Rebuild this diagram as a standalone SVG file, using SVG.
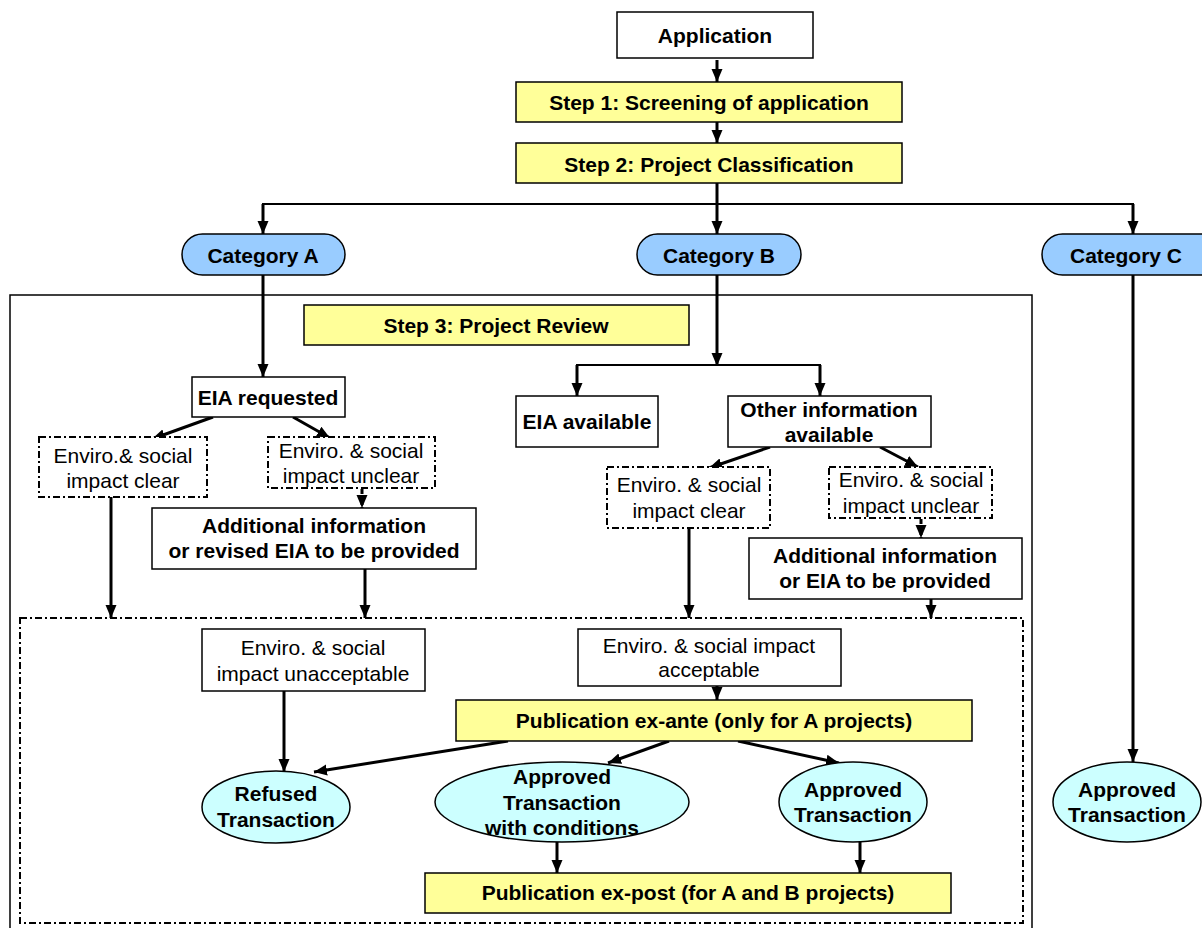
<svg xmlns="http://www.w3.org/2000/svg" width="1202" height="928" viewBox="0 0 1202 928">
<style>
.box{fill:#fff;stroke:#000;stroke-width:1.5}
.yel{fill:#ffff99;stroke:#000;stroke-width:1.5}
.cat{fill:#99ccff;stroke:#000;stroke-width:1.5}
.ell{fill:#ccffff;stroke:#000;stroke-width:1.5}
.dash{fill:#fff;stroke:#000;stroke-width:2;stroke-dasharray:7,3,2,3}
.frame{fill:none;stroke:#000;stroke-width:1.5}
.dframe{fill:none;stroke:#000;stroke-width:2;stroke-dasharray:7,3,2,3}
text{font-family:"Liberation Sans",Arial,sans-serif;font-size:21px;text-anchor:middle;fill:#000}
.b{font-weight:bold}
.c{fill:none;stroke:#000;stroke-width:3}
.cd{fill:none;stroke:#000;stroke-width:3;stroke-dasharray:5,2,2,2}
.t{fill:none;stroke:#000;stroke-width:2}
</style>
<defs>
<marker id="ah" markerUnits="userSpaceOnUse" markerWidth="14" markerHeight="14" viewBox="0 0 14 14" refX="13" refY="7" orient="auto">
<path d="M0,1.5 L13,7 L0,12.5 Z" fill="#000"/>
</marker>
</defs>
<rect class="frame" x="10" y="295" width="1022" height="640"/>
<g id="step3"><rect class="yel" x="304" y="305" width="385" height="40"/><text class="b" x="496" y="333">Step 3: Project Review</text></g>
<rect class="dframe" x="20" y="618" width="1003" height="305"/>
<g id="connectors">
<line class="c" x1="717" y1="60" x2="717" y2="82" marker-end="url(#ah)"/>
<line class="c" x1="717" y1="122" x2="717" y2="143" marker-end="url(#ah)"/>
<line class="c" x1="717" y1="183" x2="717" y2="234" marker-end="url(#ah)"/>
<polyline class="t" points="263,234 263,204 1133,204 1133,234"/>
<line class="c" x1="263" y1="204" x2="263" y2="234" marker-end="url(#ah)"/>
<line class="c" x1="1133" y1="204" x2="1133" y2="234" marker-end="url(#ah)"/>
<line class="c" x1="263" y1="275" x2="263" y2="377" marker-end="url(#ah)"/>
<line class="c" x1="717" y1="275" x2="717" y2="366" marker-end="url(#ah)"/>
<polyline class="t" points="577,396 577,365 820,365 820,396"/>
<line class="c" x1="577" y1="365" x2="577" y2="396" marker-end="url(#ah)"/>
<line class="c" x1="820" y1="365" x2="820" y2="396" marker-end="url(#ah)"/>
<line class="c" x1="213" y1="417" x2="152" y2="439" marker-end="url(#ah)"/>
<line class="c" x1="293" y1="417" x2="330" y2="438" marker-end="url(#ah)"/>
<line class="cd" x1="362" y1="489" x2="362" y2="508" marker-end="url(#ah)"/>
<line class="c" x1="111" y1="497" x2="111" y2="618" marker-end="url(#ah)"/>
<line class="c" x1="365" y1="569" x2="365" y2="618" marker-end="url(#ah)"/>
<line class="c" x1="770" y1="447" x2="709" y2="468" marker-end="url(#ah)"/>
<line class="c" x1="880" y1="447" x2="918" y2="467" marker-end="url(#ah)"/>
<line class="cd" x1="921" y1="519" x2="921" y2="538" marker-end="url(#ah)"/>
<line class="c" x1="689" y1="528" x2="689" y2="618" marker-end="url(#ah)"/>
<line class="c" x1="931" y1="599" x2="931" y2="618" marker-end="url(#ah)"/>
<line class="c" x1="1133" y1="275" x2="1133" y2="762" marker-end="url(#ah)"/>
<line class="c" x1="284" y1="691" x2="284" y2="772" marker-end="url(#ah)"/>
<line class="c" x1="717" y1="670" x2="717" y2="700" marker-end="url(#ah)"/>
<line class="c" x1="508" y1="741" x2="314" y2="772" marker-end="url(#ah)"/>
<line class="c" x1="669" y1="741" x2="608" y2="763" marker-end="url(#ah)"/>
<line class="c" x1="738" y1="741" x2="839" y2="763" marker-end="url(#ah)"/>
<line class="c" x1="557" y1="842" x2="557" y2="873" marker-end="url(#ah)"/>
<line class="c" x1="860" y1="842" x2="860" y2="873" marker-end="url(#ah)"/>
</g>
<g id="application"><rect class="box" x="617" y="12" width="196" height="46"/><text class="b" x="715" y="43">Application</text></g>
<g id="step1"><rect class="yel" x="516" y="82" width="386" height="40"/><text class="b" x="709" y="110">Step 1: Screening of application</text></g>
<g id="step2"><rect class="yel" x="516" y="143" width="386" height="40"/><text class="b" x="709" y="172">Step 2: Project Classification</text></g>
<g id="catA"><rect class="cat" x="182" y="234" width="163" height="41" rx="20.5"/><text class="b" x="263" y="263">Category A</text></g>
<g id="catB"><rect class="cat" x="637" y="234" width="164" height="41" rx="20.5"/><text class="b" x="719" y="263">Category B</text></g>
<g id="catC"><rect class="cat" x="1042" y="234" width="180" height="41" rx="20.5"/><text class="b" x="1126" y="263">Category C</text></g>
<g id="eiaRequested"><rect class="box" x="192" y="377" width="153" height="40"/><text class="b" x="268" y="405">EIA requested</text></g>
<g id="aClear"><rect class="dash" x="39" y="437" width="168" height="60"/><text x="123" y="463">Enviro.&amp; social</text><text x="123" y="488">impact clear</text></g>
<g id="aUnclear"><rect class="dash" x="268" y="437" width="167" height="51"/><text x="351" y="458">Enviro. &amp; social</text><text x="351" y="483">impact unclear</text></g>
<g id="aAdditional"><rect class="box" x="152" y="508" width="324" height="61"/><text class="b" x="314" y="533">Additional information</text><text class="b" x="314" y="558">or revised EIA to be provided</text></g>
<g id="eiaAvailable"><rect class="box" x="516" y="396" width="142" height="51"/><text class="b" x="587" y="429">EIA available</text></g>
<g id="otherInfo"><rect class="box" x="728" y="396" width="203" height="51"/><text class="b" x="829" y="417">Other information</text><text class="b" x="829" y="442">available</text></g>
<g id="bClear"><rect class="dash" x="607" y="467" width="163" height="61"/><text x="689" y="492">Enviro. &amp; social</text><text x="689" y="518">impact clear</text></g>
<g id="bUnclear"><rect class="dash" x="829" y="467" width="163" height="51"/><text x="911" y="487">Enviro. &amp; social</text><text x="911" y="513">impact unclear</text></g>
<g id="bAdditional"><rect class="box" x="749" y="538" width="273" height="61"/><text class="b" x="885" y="563">Additional information</text><text class="b" x="885" y="588">or EIA to be provided</text></g>
<g id="unacceptable"><rect class="box" x="202" y="629" width="223" height="62"/><text x="313" y="655">Enviro. &amp; social</text><text x="313" y="681">impact unacceptable</text></g>
<g id="acceptable"><rect class="box" x="578" y="629" width="263" height="57"/><text x="709" y="653">Enviro. &amp; social impact</text><text x="709" y="677">acceptable</text></g>
<g id="exAnte"><rect class="yel" x="456" y="700" width="516" height="41"/><text class="b" x="714" y="728">Publication ex-ante (only for A projects)</text></g>
<g id="refused"><ellipse class="ell" cx="276" cy="807" rx="74" ry="36"/><text class="b" x="276" y="801">Refused</text><text class="b" x="276" y="827">Transaction</text></g>
<g id="approvedCond"><ellipse class="ell" cx="562" cy="802" rx="127" ry="40"/><text class="b" x="562" y="784">Approved</text><text class="b" x="562" y="810">Transaction</text><text class="b" x="562" y="835">with conditions</text></g>
<g id="approvedB"><ellipse class="ell" cx="853" cy="802" rx="74" ry="40"/><text class="b" x="853" y="797">Approved</text><text class="b" x="853" y="822">Transaction</text></g>
<g id="approvedC"><ellipse class="ell" cx="1127" cy="802" rx="74" ry="40"/><text class="b" x="1127" y="797">Approved</text><text class="b" x="1127" y="822">Transaction</text></g>
<g id="exPost"><rect class="yel" x="425" y="873" width="526" height="40"/><text class="b" x="688" y="900">Publication ex-post (for A and B projects)</text></g>
</svg>
